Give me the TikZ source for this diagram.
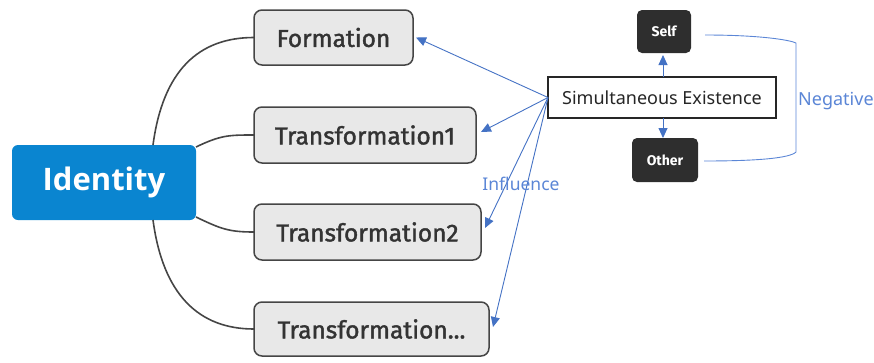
\documentclass[tikz,border=0pt]{standalone}
\usepackage{fontspec}
\setmainfont{Noto Sans}
\newfontfamily\boxfont[FakeBold=1.6]{Fira Sans}
\newfontfamily\polefont{Fira Sans}
\newfontfamily\idfont{Open Sans}
\usetikzlibrary{arrows.meta,calc}

\definecolor{idblue}{HTML}{0A85D0}
\definecolor{boxfill}{HTML}{E8E8E8}
\definecolor{boxline}{HTML}{454545}
\definecolor{boxtext}{HTML}{333333}
\definecolor{darkbox}{HTML}{2E2E2E}
\definecolor{linkblue}{HTML}{4472C4}
\definecolor{labelblue}{HTML}{5B86D6}

\tikzset{
  root/.style={fill=idblue, rounded corners=6pt, outer sep=0pt, inner sep=0pt,
    text=white, font=\idfont\bfseries\fontsize{31}{36}\selectfont},
  topic/.style={fill=boxfill, draw=boxline, line width=1.5pt, rounded corners=8pt,
    outer sep=0pt, inner sep=0pt, text=boxtext,
    font=\boxfont\fontsize{24.5}{28}\selectfont},
  hub/.style={fill=white, draw=black!85, line width=1.1pt, outer sep=0pt, inner sep=0pt,
    text=black!85, font=\fontsize{18}{22}\selectfont},
  pole/.style={fill=darkbox, rounded corners=5pt, outer sep=0pt, inner sep=0pt,
    text=white, font=\polefont\bfseries\fontsize{14}{17}\selectfont},
  branch/.style={draw=boxline, line width=1.6pt},
  infl/.style={draw=linkblue, line width=0.9pt, -{Triangle[length=10pt,width=9pt]}},
  bracket/.style={draw=labelblue, line width=0.9pt},
  tag/.style={text=labelblue, inner sep=0pt}
}

\begin{document}
\begin{tikzpicture}[x=1pt,y=-1pt]
\useasboundingbox (0,0) rectangle (874,362);

% central identity block
\node[root, minimum width=184pt, minimum height=75pt] (id) at (104,182.5) {Identity};

% stages of identity
\node[topic, minimum width=159pt, minimum height=55pt] (form) at (333.5,37.5) {Formation};
\node[topic, minimum width=222pt, minimum height=56pt] (t1) at (365,135) {Transformation1};
\node[topic, minimum width=227pt, minimum height=56pt] (t2) at (367.5,232) {Transformation2};
\node[topic, minimum width=235pt, minimum height=54pt] (tdots) at (371.5,329) {Transformation...};

% branches from the identity block
\draw[branch] ([xshift=49pt]id.north) .. controls +(10,-75) and +(-55,0) .. (form.west);
\draw[branch] ([yshift=-2pt]id.north east) .. controls +(25,-12) and +(-25,0) .. (t1.west);
\draw[branch] ([yshift=3pt]id.south east) .. controls +(25,12) and +(-25,0) .. (t2.west);
\draw[branch] ([xshift=49pt]id.south) .. controls +(10,75) and +(-55,0) .. (tdots.west);

% simultaneous existence of self and other
\node[hub, minimum width=228pt, minimum height=41pt] (sim) at (662,97.5) {Simultaneous Existence};
\node[pole, minimum width=54pt, minimum height=43pt] (self) at (664,31.5) {Self};
\node[pole, minimum width=66pt, minimum height=44pt] (other) at (665,160) {Other};

\draw[infl] (sim.north -| 663,0) -- ([yshift=-2pt]self.south -| 663,0);
\draw[infl] (sim.south -| 663,0) -- (other.north -| 663,0);

% influence on each stage
\draw[infl] (sim.west) -- ([xshift=3pt]form.east);
\draw[infl] (sim.west) -- ([xshift=5pt,yshift=3pt]t1.east);
\draw[infl] (sim.west) -- ([xshift=4pt,yshift=4pt]t2.east);
\draw[infl] (sim.west) -- ([xshift=4pt,yshift=2pt]tdots.east);
\node[tag, font=\fontsize{17.5}{21}\selectfont] (influence) at (521,184) {Influence};

% negative relation between self and other
\coordinate (negtop) at ([xshift=14pt,yshift=-3.5pt]self.east);
\coordinate (negbot) at ([xshift=6pt,yshift=-1pt]other.east);
\draw[bracket] (negtop) .. controls +(55,0) and +(-6,-3) .. (796,43)
  -- (796,152) .. controls +(-6,6) and +(55,0) .. (negbot);
\node[tag, font=\fontsize{18}{22}\selectfont, anchor=west] (negative) at (798,101) {Negative};
\end{tikzpicture}
\end{document}
